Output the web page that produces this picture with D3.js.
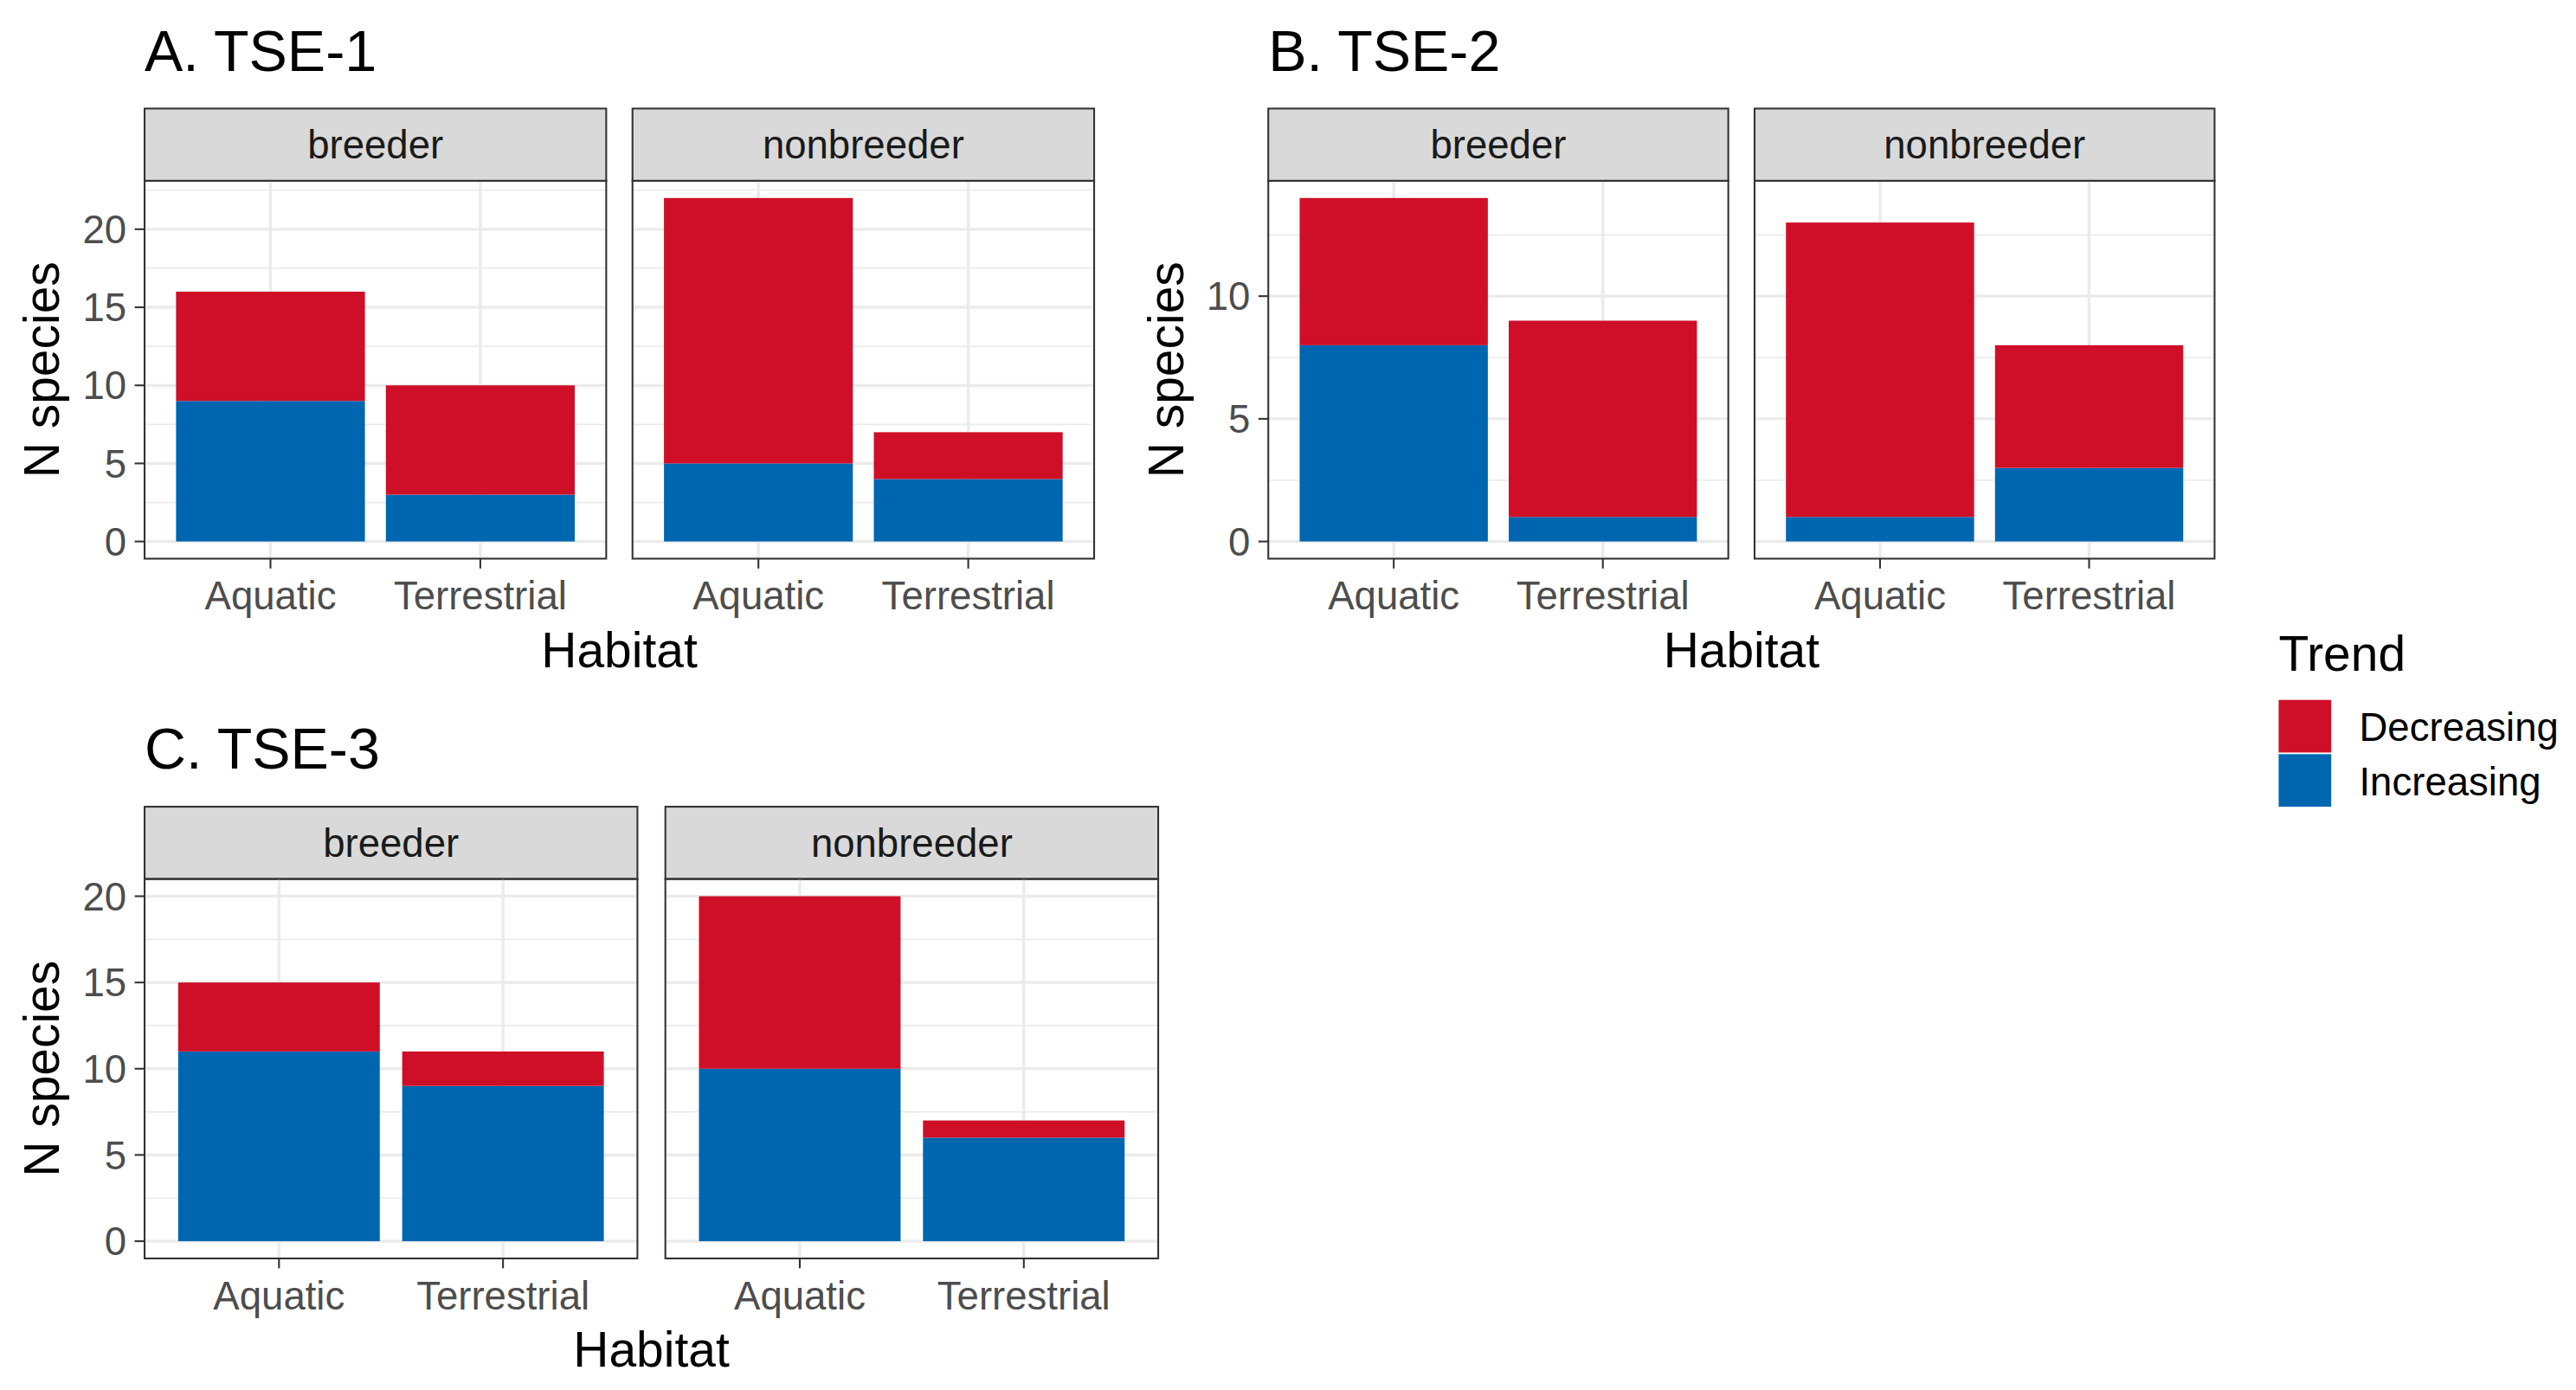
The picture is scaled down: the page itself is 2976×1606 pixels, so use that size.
<!DOCTYPE html>
<html>
<head>
<meta charset="utf-8">
<script src="https://cdn.jsdelivr.net/npm/d3@7"></script>
<style>
  html, body { margin: 0; padding: 0; background: #fff; }
  text { font-family: "Liberation Sans", Arial, sans-serif; }
</style>
</head>
<body>
<svg id="chart" width="2976" height="1606" viewBox="0 0 1568 846"></svg>
<script>
// data
var panelTitles = ["A. TSE-1", "B. TSE-2", "C. TSE-3"];
var groups = ["breeder", "nonbreeder"];
var habitats = ["Aquatic", "Terrestrial"];
var trends = ["Decreasing", "Increasing"];
// order: breeder-Aquatic, breeder-Terrestrial, nonbreeder-Aquatic, nonbreeder-Terrestrial
var incTSE1 = [9, 3, 5, 4];
var decTSE1 = [7, 7, 17, 3];
var incTSE2 = [8, 1, 1, 3];
var decTSE2 = [6, 8, 12, 5];
var incTSE3 = [11, 9, 10, 6];
var decTSE3 = [4, 2, 10, 1];
var yTicks1 = [0, 5, 10, 15, 20];
var yTicks2 = [0, 5, 10];
var yTicks3 = [0, 5, 10, 15, 20];

var colors = { Decreasing: "#cf0e27", Increasing: "#0066b0" };

var svg = d3.select("#chart");

function rows(inc, dec) {
    var out = [];
    groups.forEach(function(g, gi) {
        habitats.forEach(function(h, hi) {
            var k = gi * 2 + hi;
            out.push({ group: g, habitat: h, Increasing: inc[k], Decreasing: dec[k] });
        });
    });
    return out;
}

function drawPanel(cfg) {
    var data = rows(cfg.inc, cfg.dec);
    var stack = d3.stack().keys(["Increasing", "Decreasing"])(data);
    var ymax = d3.max(data, function(d) { return d.Increasing + d.Decreasing; });
    var y = d3.scaleLinear()
        .domain([-0.05 * ymax, 1.05 * ymax])
        .range([cfg.bottom, cfg.top]);
    var stripH = 44;
    var g = svg.append("g");

    g.append("text")
        .attr("x", cfg.lefts[0]).attr("y", cfg.top - stripH - 23)
        .attr("font-size", 35).attr("fill", "#000")
        .text(cfg.title);

    var minor = [];
    for (var i = 0; i < cfg.ticks.length; i++) {
        var m = cfg.ticks[i] + 2.5;
        if (m <= 1.05 * ymax) minor.push(m);
    }

    groups.forEach(function(grp, gi) {
        var left = cfg.lefts[gi], right = left + cfg.width;
        var x = d3.scaleLinear().domain([0.4, 2.6]).range([left, right]);
        var p = g.append("g");

        // strip
        p.append("rect")
            .attr("x", left).attr("y", cfg.top - stripH)
            .attr("width", cfg.width).attr("height", stripH)
            .attr("fill", "#d9d9d9").attr("stroke", "#333").attr("stroke-width", 1.1);
        p.append("text")
            .attr("x", (left + right) / 2).attr("y", cfg.top - stripH / 2 + 8.5)
            .attr("text-anchor", "middle").attr("font-size", 24).attr("fill", "#1a1a1a")
            .text(grp);

        // grid
        p.selectAll(".minor").data(minor).enter().append("line")
            .attr("x1", left).attr("x2", right)
            .attr("y1", y).attr("y2", y)
            .attr("stroke", "#ebebeb").attr("stroke-width", 0.9);
        p.selectAll(".majory").data(cfg.ticks).enter().append("line")
            .attr("x1", left).attr("x2", right)
            .attr("y1", y).attr("y2", y)
            .attr("stroke", "#ebebeb").attr("stroke-width", 1.8);
        p.selectAll(".majorx").data([1, 2]).enter().append("line")
            .attr("x1", x).attr("x2", x)
            .attr("y1", cfg.top).attr("y2", cfg.bottom)
            .attr("stroke", "#ebebeb").attr("stroke-width", 1.8);

        // bars
        stack.forEach(function(layer) {
            layer.forEach(function(seg, i) {
                if (seg.data.group !== grp) return;
                var pos = habitats.indexOf(seg.data.habitat) + 1;
                p.append("rect")
                    .attr("x", x(pos - 0.45))
                    .attr("width", x(pos + 0.45) - x(pos - 0.45))
                    .attr("y", y(seg[1]))
                    .attr("height", y(seg[0]) - y(seg[1]))
                    .attr("fill", colors[layer.key]);
            });
        });

        // border
        p.append("rect")
            .attr("x", left).attr("y", cfg.top)
            .attr("width", cfg.width).attr("height", cfg.bottom - cfg.top)
            .attr("fill", "none").attr("stroke", "#333").attr("stroke-width", 1.1);

        // x axis
        var xa = p.append("g").attr("transform", "translate(0," + cfg.bottom + ")");
        habitats.forEach(function(h, hi) {
            xa.append("line")
                .attr("x1", x(hi + 1)).attr("x2", x(hi + 1))
                .attr("y1", 0).attr("y2", 6)
                .attr("stroke", "#333").attr("stroke-width", 1.1);
            xa.append("text")
                .attr("x", x(hi + 1)).attr("y", 31)
                .attr("text-anchor", "middle").attr("font-size", 24).attr("fill", "#4d4d4d")
                .text(h);
        });

        // y axis on first facet
        if (gi === 0) {
            var ya = p.append("g");
            cfg.ticks.forEach(function(t) {
                ya.append("line")
                    .attr("x1", left - 6).attr("x2", left)
                    .attr("y1", y(t)).attr("y2", y(t))
                    .attr("stroke", "#333").attr("stroke-width", 1.1);
                ya.append("text")
                    .attr("x", left - 11).attr("y", y(t) + 8.5)
                    .attr("text-anchor", "end").attr("font-size", 24).attr("fill", "#4d4d4d")
                    .text(t);
            });
        }
    });

    var l0 = cfg.lefts[0], r1 = cfg.lefts[1] + cfg.width;
    g.append("text")
        .attr("x", (l0 + r1) / 2).attr("y", cfg.bottom + 66)
        .attr("text-anchor", "middle").attr("font-size", 30).attr("fill", "#000")
        .text("Habitat");
    g.append("text")
        .attr("transform", "translate(" + (l0 - 52) + "," + ((cfg.top + cfg.bottom) / 2) + ") rotate(-90)")
        .attr("text-anchor", "middle").attr("font-size", 30).attr("fill", "#000")
        .text("N species");
}

drawPanel({ title: panelTitles[0], inc: incTSE1, dec: decTSE1, ticks: yTicks1,
            lefts: [88, 385], width: 281, top: 110, bottom: 340 });
drawPanel({ title: panelTitles[1], inc: incTSE2, dec: decTSE2, ticks: yTicks2,
            lefts: [772, 1068], width: 280, top: 110, bottom: 340 });
drawPanel({ title: panelTitles[2], inc: incTSE3, dec: decTSE3, ticks: yTicks3,
            lefts: [88, 405], width: 300, top: 535, bottom: 766 });

// legend
var leg = svg.append("g").attr("transform", "translate(1387,0)");
leg.append("text").attr("x", 0).attr("y", 408)
    .attr("font-size", 30).attr("fill", "#000").text("Trend");
trends.forEach(function(t, i) {
    leg.append("rect")
        .attr("x", 0).attr("y", 426 + i * 33)
        .attr("width", 32).attr("height", 32)
        .attr("fill", colors[t]);
    leg.append("text")
        .attr("x", 49).attr("y", 426 + i * 33 + 25)
        .attr("font-size", 24).attr("fill", "#000").text(t);
});
</script>
</body>
</html>
